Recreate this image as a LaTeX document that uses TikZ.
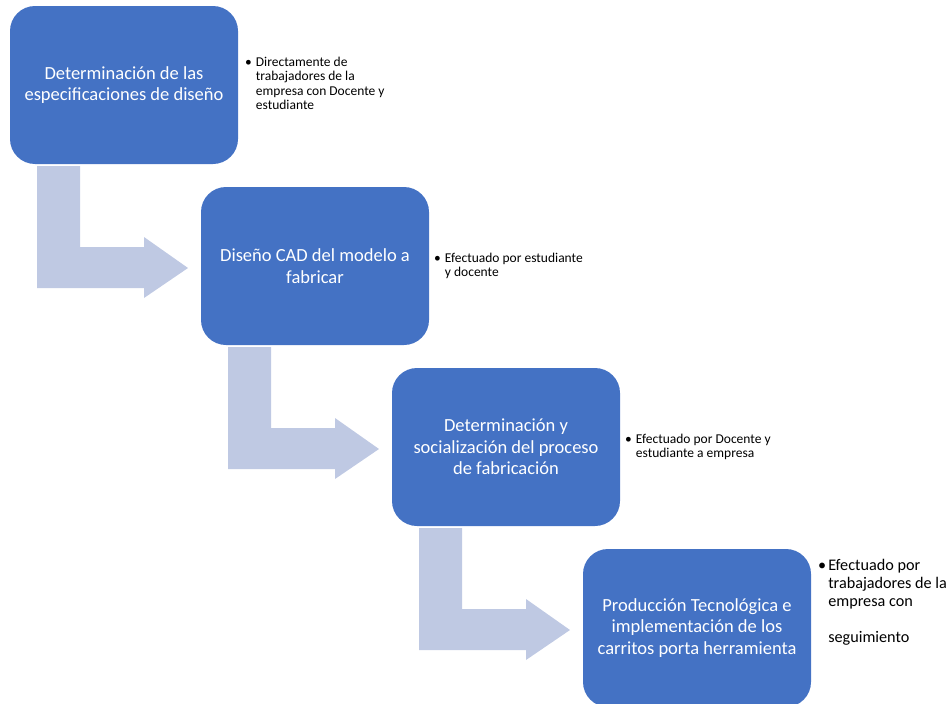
\documentclass[tikz,border=0pt]{standalone}
\usepackage{fontspec}
\setmainfont{Carlito}
\definecolor{boxblue}{HTML}{4472C4}
\definecolor{arrowgray}{RGB}{191,201,227}
\begin{document}
\begin{tikzpicture}[x=1pt,y=-1pt,
 box/.style={fill=boxblue, rounded corners=25pt, minimum width=228pt, minimum height=158pt, text=white, align=center, font=\fontsize{18.5}{21.5}\selectfont, inner sep=0pt},
 note/.style={anchor=north west, inner sep=0pt, font=\fontsize{13.5}{14.5}\selectfont, align=left},
 bignote/.style={note, font=\fontsize{16.2}{18}\selectfont},
 bendarrow/.style={fill=arrowgray}]
\useasboundingbox (0,0) rectangle (948,704);
\foreach \i in {0,1,2}{
  \fill[bendarrow, shift={(\i*191,\i*181)}] (37,166) -- (80,166) -- (80,247) -- (144,247) -- (144,237) -- (188,268) -- (144,298) -- (144,288) -- (37,288) -- cycle;
}
\node[box] (b1) at (124,85) {Determinación de las\\especificaciones de diseño};
\node[box] (b2) at (315,266) {Diseño CAD del modelo a\\fabricar};
\node[box] (b3) at (506,447) {Determinación y\\socialización del proceso\\de fabricación};
\node[box] (b4) at (697,628) {Producción Tecnológica e\\implementación de los\\carritos porta herramienta};
\node[note] (n1) at (245,56) {\begin{tabular}{@{}l@{\hspace{4pt}}l@{}}\textbullet & Directamente de\\ & trabajadores de la\\ & empresa con Docente y\\ & estudiante\end{tabular}};
\node[note] (n2) at (434,252) {\begin{tabular}{@{}l@{\hspace{4pt}}l@{}}\textbullet & Efectuado por estudiante\\ & y docente\end{tabular}};
\node[note] (n3) at (625,433) {\begin{tabular}{@{}l@{\hspace{4pt}}l@{}}\textbullet & Efectuado por Docente y\\ & estudiante a empresa\end{tabular}};
\node[bignote] (n4) at (818,558) {\begin{tabular}{@{}l@{\hspace{2pt}}l@{}}\textbullet & Efectuado por\\ & trabajadores de la\\ & empresa con\\ & \\ & seguimiento\end{tabular}};
\end{tikzpicture}
\end{document}
